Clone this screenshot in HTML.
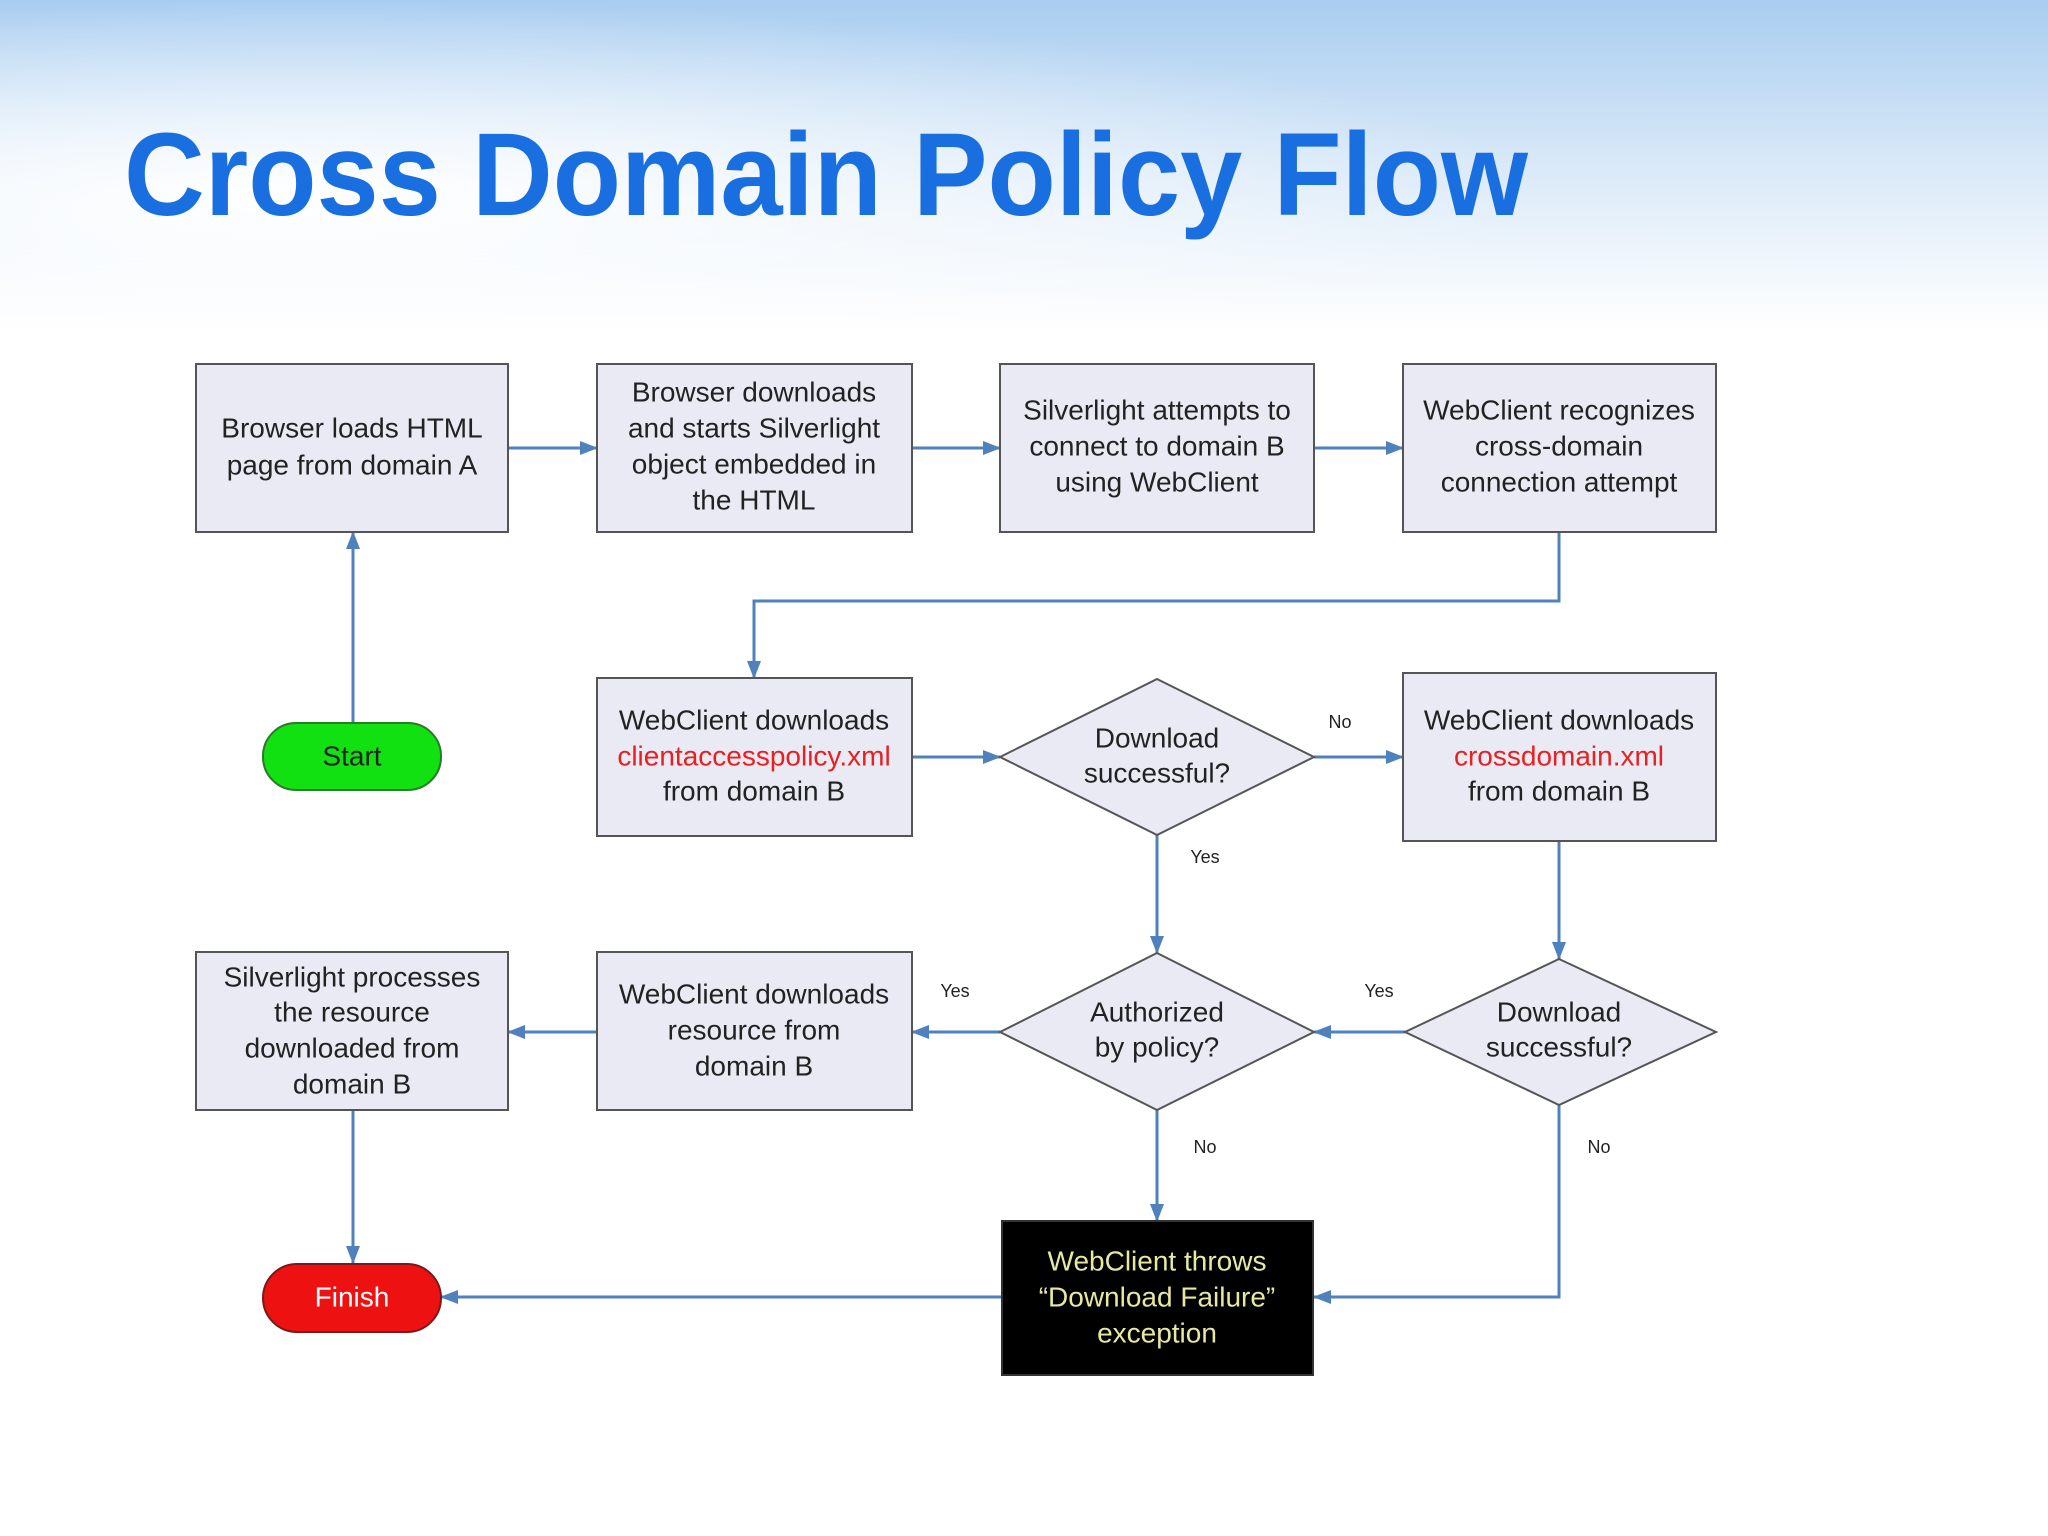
<!DOCTYPE html>
<html><head><meta charset="utf-8"><style>html,body{margin:0;padding:0;background:#fff}svg{display:block}</style></head>
<body>
<svg width="2048" height="1536" viewBox="0 0 2048 1536" xmlns="http://www.w3.org/2000/svg">
<defs>
<linearGradient id="sky" x1="0" y1="0" x2="0" y2="1">
<stop offset="0" stop-color="#a9cdf0"/><stop offset="0.5" stop-color="#d9e9f8"/><stop offset="1" stop-color="#ffffff"/>
</linearGradient>
<radialGradient id="glow" cx="0.15" cy="0.6" r="0.6">
<stop offset="0" stop-color="#ffffff" stop-opacity="1"/><stop offset="1" stop-color="#ffffff" stop-opacity="0"/>
</radialGradient>
<marker id="ah" markerWidth="10" markerHeight="10" refX="9" refY="5" orient="auto" markerUnits="userSpaceOnUse" viewBox="0 0 10 10">
<path d="M0,0 L10,5 L0,10 z" fill="#4f81bd"/>
</marker>
<marker id="a" markerWidth="18" markerHeight="18" refX="17" refY="9" orient="auto" markerUnits="userSpaceOnUse">
<path d="M0,2 L18,9 L0,16 z" fill="#4f81bd"/>
</marker>
</defs>
<rect width="2048" height="330" fill="url(#sky)"/>
<rect width="2048" height="330" fill="url(#glow)"/>
<text x="124" y="215" font-family="Liberation Sans, sans-serif" font-weight="bold" font-size="118" fill="#1a6fe0" textLength="1404" lengthAdjust="spacingAndGlyphs">Cross Domain Policy Flow</text>

<g fill="none" stroke="#4f81bd" stroke-width="3">
<line x1="508" y1="448" x2="597" y2="448" marker-end="url(#a)"/>
<line x1="912" y1="448" x2="1000" y2="448" marker-end="url(#a)"/>
<line x1="1314" y1="448" x2="1403" y2="448" marker-end="url(#a)"/>
<polyline points="1559,532 1559,601 754,601 754,678" marker-end="url(#a)"/>
<line x1="353" y1="722" x2="353" y2="532" marker-end="url(#a)"/>
<line x1="912" y1="757" x2="1000" y2="757" marker-end="url(#a)"/>
<line x1="1314" y1="757" x2="1403" y2="757" marker-end="url(#a)"/>
<line x1="1157" y1="835" x2="1157" y2="953" marker-end="url(#a)"/>
<line x1="1559" y1="841" x2="1559" y2="959" marker-end="url(#a)"/>
<line x1="1405" y1="1032" x2="1314" y2="1032" marker-end="url(#a)"/>
<line x1="1000" y1="1032" x2="912" y2="1032" marker-end="url(#a)"/>
<line x1="597" y1="1032" x2="508" y2="1032" marker-end="url(#a)"/>
<line x1="353" y1="1110" x2="353" y2="1263" marker-end="url(#a)"/>
<line x1="1157" y1="1110" x2="1157" y2="1221" marker-end="url(#a)"/>
<polyline points="1559,1105 1559,1297 1314,1297" marker-end="url(#a)"/>
<line x1="1002" y1="1297" x2="441" y2="1297" marker-end="url(#a)"/>
</g>

<g fill="#eaeaf4" stroke="#555" stroke-width="2">
<rect x="196" y="364" width="312" height="168"/>
<rect x="597" y="364" width="315" height="168"/>
<rect x="1000" y="364" width="314" height="168"/>
<rect x="1403" y="364" width="313" height="168"/>
<rect x="597" y="678" width="315" height="158"/>
<rect x="1403" y="673" width="313" height="168"/>
<rect x="196" y="952" width="312" height="158"/>
<rect x="597" y="952" width="315" height="158"/>
<polygon points="1157,679 1314,757 1157,835 1000,757"/>
<polygon points="1157,953 1314,1032 1157,1110 1000,1032"/>
<polygon points="1559,959 1716,1032 1559,1105 1405,1032"/>
</g>
<rect x="1002" y="1221" width="311" height="154" fill="#000" stroke="#333" stroke-width="2"/>
<rect x="263" y="723" width="178" height="67" rx="33" fill="#11e011" stroke="#2a7a2a" stroke-width="2"/>
<rect x="263" y="1264" width="178" height="68" rx="34" fill="#ee1111" stroke="#7a1a1a" stroke-width="2"/>

<g font-family="Liberation Sans, sans-serif" font-size="28" fill="#222" text-anchor="middle" dominant-baseline="central">
<text x="352" y="428">Browser loads HTML</text><text x="352" y="465">page from domain A</text>
<text x="754" y="392">Browser downloads</text><text x="754" y="428">and starts Silverlight</text><text x="754" y="464">object embedded in</text><text x="754" y="500">the HTML</text>
<text x="1157" y="410">Silverlight attempts to</text><text x="1157" y="446">connect to domain B</text><text x="1157" y="482">using WebClient</text>
<text x="1559" y="410">WebClient recognizes</text><text x="1559" y="446">cross-domain</text><text x="1559" y="482">connection attempt</text>
<text x="754" y="720">WebClient downloads</text><text x="754" y="756" fill="#e82020">clientaccesspolicy.xml</text><text x="754" y="791">from domain B</text>
<text x="1157" y="738">Download</text><text x="1157" y="773">successful?</text>
<text x="1559" y="720">WebClient downloads</text><text x="1559" y="756" fill="#e82020">crossdomain.xml</text><text x="1559" y="791">from domain B</text>
<text x="352" y="756">Start</text>
<text x="352" y="977">Silverlight processes</text><text x="352" y="1012">the resource</text><text x="352" y="1048">downloaded from</text><text x="352" y="1084">domain B</text>
<text x="754" y="994">WebClient downloads</text><text x="754" y="1030">resource from</text><text x="754" y="1066">domain B</text>
<text x="1157" y="1012">Authorized</text><text x="1157" y="1047">by policy?</text>
<text x="1559" y="1012">Download</text><text x="1559" y="1047">successful?</text>
<text x="1157" y="1261" fill="#e8e8a0">WebClient throws</text><text x="1157" y="1297" fill="#e8e8a0">“Download Failure”</text><text x="1157" y="1333" fill="#e8e8a0">exception</text>
<text x="352" y="1297" fill="#fff">Finish</text>
</g>
<g font-family="Liberation Sans, sans-serif" font-size="18" fill="#222" text-anchor="middle" dominant-baseline="central">
<text x="1340" y="722">No</text>
<text x="1205" y="857">Yes</text>
<text x="955" y="991">Yes</text>
<text x="1379" y="991">Yes</text>
<text x="1205" y="1147">No</text>
<text x="1599" y="1147">No</text>
</g>
</svg>
</body></html>
